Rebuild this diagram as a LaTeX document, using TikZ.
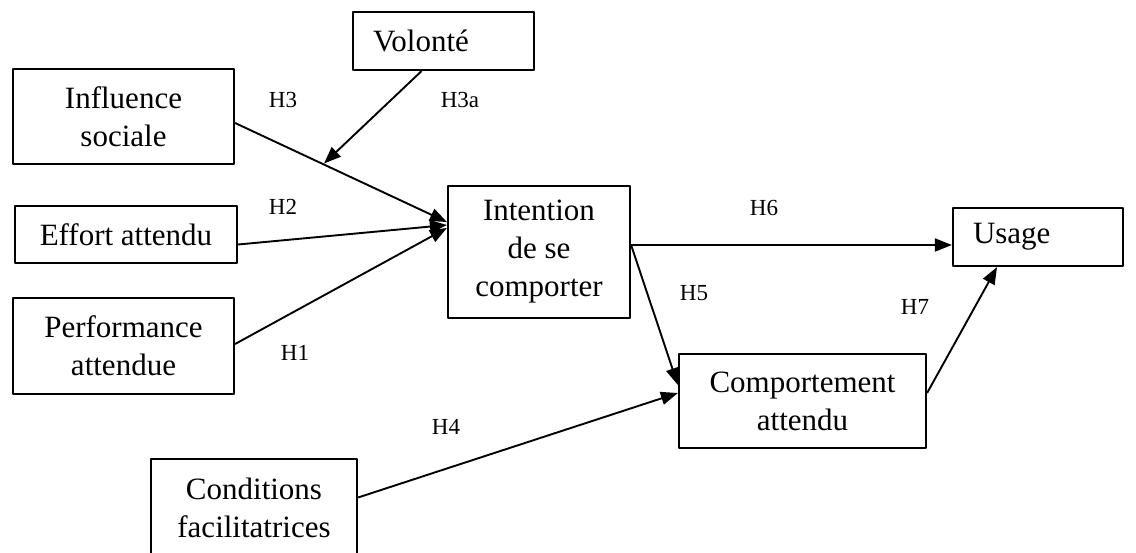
\documentclass[tikz,border=0pt]{standalone}
\usepackage{fontspec}
\setmainfont{Liberation Serif}
\usetikzlibrary{arrows.meta}
\begin{document}
\begin{tikzpicture}[x=1pt, y=-1pt, line join=round,
	box/.style={draw, line width=2.2pt, align=center, inner sep=0pt, font=\fontsize{31}{38}\selectfont},
	lbl/.style={font=\fontsize{23}{27}\selectfont},
	arr/.style={line width=1.9pt, -{Triangle[length=17pt,width=13pt]}}]
			\useasboundingbox (0,0) rectangle (1136,552);
			\node[box, minimum height=58pt, text width=141pt, inner xsep=20pt, align=left] (vol) at (443.5,41) {Volonté};
			\node[box, minimum width=221pt, minimum height=95pt] (infl) at (123.5,116.5) {Influence\\sociale};
			\node[box, minimum width=222pt, minimum height=57pt] (eff) at (126,234.5) {Effort attendu};
			\node[box, minimum width=221pt, minimum height=96pt] (perf) at (123.5,346) {Performance\\attendue};
			\node[box, minimum width=182pt, minimum height=132pt] (intent) at (539,252) {Intention\\de se\\comporter};
			\node[box, minimum height=58pt, text width=130pt, inner xsep=20pt, align=left] (usage) at (1038,237) {Usage};
			\node[box, minimum width=247pt, minimum height=94pt] (comp) at (802.5,401) {Comportement\\attendu};
			\node[box, minimum width=206pt, minimum height=97pt] (cond) at (254,507.5) {Conditions\\facilitatrices};
			\coordinate (mod) at (324,163.5);
			\draw[arr] ([yshift=-6.5pt]infl.east)--([yshift=30pt]intent.west);
			\draw[arr] ([xshift=-22pt]vol.south)--(mod);
			\draw[arr] ([yshift=-10pt]eff.east)--([yshift=27pt]intent.west);
			\draw[arr] ([yshift=2pt]perf.east)--([yshift=24pt]intent.west);
			\draw[arr] ([yshift=7pt]intent.east)--([yshift=-8pt]usage.west);
			\draw[arr] ([yshift=7pt]intent.east)--([yshift=16pt]comp.west);
			\draw[arr] ([yshift=10pt]cond.east)--([yshift=8pt]comp.west);
			\draw[arr] ([yshift=8pt]comp.east)--([xshift=-41pt]usage.south);
			\node[lbl] (h3) at (283,100) {H3};
			\node[lbl] (h3a) at (460,100) {H3a};
			\node[lbl] (h2) at (283,207) {H2};
			\node[lbl] (h1) at (295,353) {H1};
			\node[lbl] (h6) at (764,208) {H6};
			\node[lbl] (h5) at (694,293) {H5};
			\node[lbl] (h7) at (915,307) {H7};
			\node[lbl] (h4) at (446,427) {H4};
			\end{tikzpicture}
\end{document}
